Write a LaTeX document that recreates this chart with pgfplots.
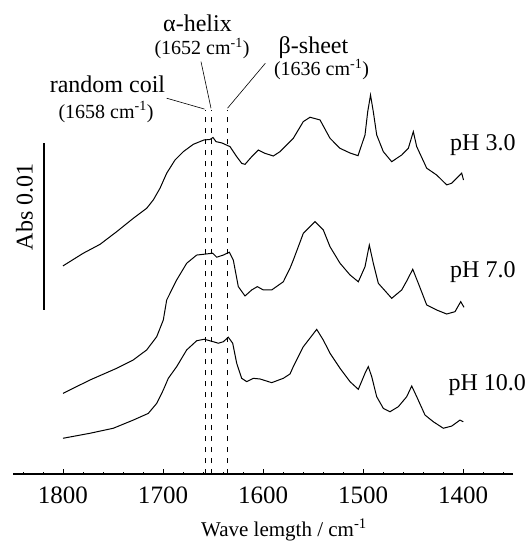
\documentclass[border=0pt]{standalone}
\usepackage{fontspec}
\setmainfont{Liberation Serif}
\usepackage{pgfplots}
\pgfplotsset{compat=1.18}
\newcommand\bigf{\fontsize{24}{28}\selectfont}
\newcommand\smallf{\fontsize{20}{24}\selectfont}
\begin{document}
\begin{tikzpicture}
\begin{axis}[
  scale only axis, width=500pt, height=474pt,
  xmin=1350, xmax=1850, x dir=reverse,
  ymin=0, ymax=28.38,
  axis x line*=bottom, axis y line=none,
  axis line style={line width=1.3pt},
  xtick={1400,1500,...,1800},
  minor xtick={1360,1380,...,1840},
  tick align=inside,
  major tick length=5pt, minor tick length=2.5pt,
  every tick/.style={black, line width=0.8pt},
  xticklabel style={font=\fontsize{25}{29}\selectfont, yshift=-9pt},
  /pgf/number format/assume math mode=true,
  /pgf/number format/set thousands separator={},
  clip=false,
  spec/.style={black, line width=1pt, no marks},
]
% pH 3.0
\addplot[spec] coordinates {
(1800,12.46) (1779.7,13.22) (1763,13.75) (1746.3,14.51) (1729.7,15.31) (1716.3,15.91)
(1709.7,16.41) (1703,17.11) (1696.3,18.01) (1688,18.80) (1679.7,19.30) (1669.7,19.74)
(1659,20.00) (1653,20.03) (1650,20.15) (1647,19.90) (1641,19.82) (1633,19.60)
(1626.3,19.00) (1621.3,18.60) (1618,18.54) (1611.3,19.00) (1604.7,19.40) (1598,19.20)
(1589.7,19.04) (1583,19.30) (1573,19.90) (1569.7,20.10) (1559.7,21.10) (1553,21.36)
(1543,21.20) (1533,20.10) (1523,19.50) (1513,19.22) (1505,19.06) (1498,20.30)
(1495.3,21.69) (1492.5,22.69) (1489.7,21.69) (1486.3,20.30) (1479.7,19.30) (1471.3,18.70)
(1461.3,19.10) (1454.7,19.50) (1449.7,20.50) (1446.3,19.60) (1436.3,18.31) (1426.3,17.90)
(1416.3,17.31) (1411.3,17.41) (1401.3,18.01) (1399.5,17.60)
};
% pH 7.0
\addplot[spec] coordinates {
(1800,4.83) (1773,5.63) (1746.3,6.33) (1729.7,6.83) (1716.3,7.43) (1706.3,8.22)
(1699.7,9.22) (1696.3,10.42) (1686.3,11.62) (1676.3,12.62) (1666.3,13.11) (1658.7,13.16)
(1650.3,13.22) (1646.3,12.98) (1639.7,13.11) (1633.7,13.28) (1629.7,12.81) (1624.7,11.22)
(1618,10.66) (1611.3,11.02) (1605.7,11.22) (1599.7,11.02) (1591.3,11.02) (1579.7,11.51)
(1573,12.32) (1569.7,12.81) (1559.7,14.41) (1548,15.11) (1539.7,14.61) (1533,13.61)
(1523,12.62) (1513,11.92) (1504.7,11.51) (1498,12.41) (1493.7,13.71) (1489.7,12.62)
(1484.7,11.42) (1471.3,10.52) (1461.3,11.02) (1455.7,11.62) (1450.3,12.26) (1444.7,11.42)
(1436.3,10.12) (1426.3,9.82) (1416.3,9.58) (1408,9.72) (1402.3,10.32) (1399,9.98)
};
% pH 10.0
\addplot[spec] coordinates {
(1800,2.14) (1773,2.44) (1749.7,2.74) (1729.7,3.23) (1714.7,3.63) (1706.3,4.23)
(1699.7,5.03) (1694.7,5.73) (1686.3,6.43) (1676.3,7.43) (1666.3,7.98) (1658.7,8.07)
(1649.7,7.92) (1644.7,7.83) (1639.7,7.92) (1634.7,8.19) (1630.3,7.83) (1626.3,6.63)
(1621.3,5.73) (1616.3,5.53) (1609.7,5.73) (1603,5.69) (1591.3,5.47) (1579.7,5.73)
(1573,5.99) (1569.7,6.43) (1559.7,7.62) (1546.3,8.66) (1539.7,8.02) (1533,7.23)
(1523,6.33) (1513,5.53) (1504.7,5.07) (1498,6.03) (1494.7,6.43) (1491.3,5.83)
(1486.3,4.63) (1479.7,3.93) (1473,3.73) (1464.7,4.03) (1456.3,4.63) (1451.3,5.27)
(1446.3,4.63) (1438,3.53) (1429.7,3.13) (1419.7,2.74) (1411.3,2.87) (1403,3.23)
(1399.7,3.13)
};
% band positions
\addplot[black, line width=0.8pt, dash pattern=on 5pt off 6pt] coordinates {(1658,0) (1658,21.8)};
\addplot[black, line width=0.8pt, dash pattern=on 5pt off 6pt] coordinates {(1652,0) (1652,21.8)};
\addplot[black, line width=0.8pt, dash pattern=on 5pt off 6pt] coordinates {(1636,0) (1636,21.8)};
% scale bar, 0.01 Abs
\addplot[black, line width=1.3pt] coordinates {(1819,9.82) (1819,19.82)};
\node[rotate=90, font=\bigf] at (axis cs:1838.5,16.0) {Abs 0.01};

% labels and leaders
\draw[line width=0.6pt] (axis cs:1696.3,22.5) -- (axis cs:1658.5,21.85);
\draw[line width=0.6pt] (axis cs:1662,24.69) -- (axis cs:1652,21.9);
\draw[line width=0.6pt] (axis cs:1597.7,24.59) -- (axis cs:1635.5,21.9);
\node[anchor=base, font=\bigf] at (axis cs:1665.5,26.49) {α-helix};
\node[anchor=base, font=\smallf] at (axis cs:1661,25.09) {(1652 cm\textsuperscript{-1})};
\node[anchor=base, font=\bigf] at (axis cs:1755.5,22.83) {random coil};
\node[anchor=base, font=\smallf] at (axis cs:1757,21.30) {(1658 cm\textsuperscript{-1})};
\node[anchor=base, font=\bigf] at (axis cs:1549.5,25.19) {β-sheet};
\node[anchor=base, font=\smallf] at (axis cs:1541.5,23.83) {(1636 cm\textsuperscript{-1})};
\node[anchor=base west, font=\bigf, inner sep=0pt] at (axis cs:1413,19.36) {pH 3.0};
\node[anchor=base west, font=\bigf, inner sep=0pt] at (axis cs:1413,11.75) {pH 7.0};
\node[anchor=base west, font=\bigf, inner sep=0pt] at (axis cs:1414.7,4.99) {pH 10.0};
\node[anchor=base, font=\fontsize{21}{25}\selectfont] at (axis cs:1579,-3.72) {Wave lemgth / cm\textsuperscript{-1}};

\coordinate (bbA) at (axis cs:1863,-4.13);
\coordinate (bbB) at (axis cs:1334,28.38);
\end{axis}
\pgfresetboundingbox
\path[use as bounding box] (bbA) rectangle (bbB);
\end{tikzpicture}
\end{document}
